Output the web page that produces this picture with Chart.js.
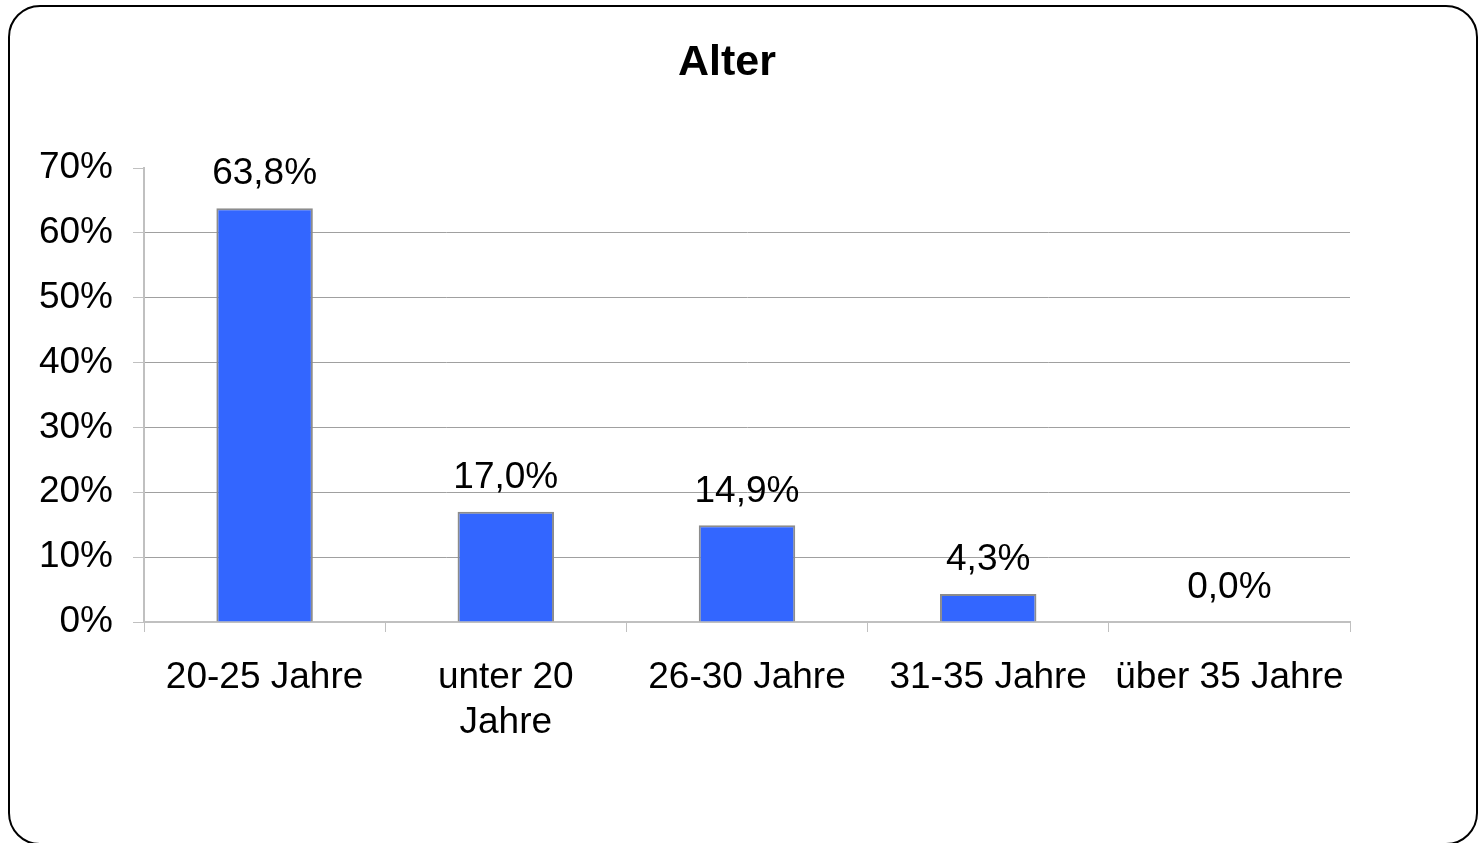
<!DOCTYPE html>
<html>
<head>
<meta charset="utf-8">
<script src="https://cdn.jsdelivr.net/npm/chart.js@4"></script>
<style>
  body { margin: 0; background: #fff; }
  #wrap { position: relative; width: 1482px; height: 843px; overflow: hidden; }
  #frame {
    position: absolute; left: 8px; top: 5px; width: 1470px; height: 840px;
    box-sizing: border-box; border: 2px solid #000; border-radius: 32px;
    pointer-events: none;
  }
</style>
</head>
<body>
<div id="wrap">
  <canvas id="age-chart" width="1482" height="843"></canvas>
  <div id="frame"></div>
</div>
<script>
// Data
const categories = ['20-25 Jahre', ['unter 20', 'Jahre'], '26-30 Jahre', '31-35 Jahre', 'über 35 Jahre'];
const shares = [63.8, 17.0, 14.9, 4.3, 0.0];
const yTicks = [0, 10, 20, 30, 40, 50, 60, 70];

Chart.defaults.font.family = "'Liberation Sans', Arial, sans-serif";
Chart.defaults.font.size = 37;
Chart.defaults.color = '#000';

// Value labels above the bars (German decimal comma)
const valueLabels = {
    id: 'valueLabels',
    afterDatasetsDraw(chart) {
        const ctx = chart.ctx;
        const meta = chart.getDatasetMeta(0);
        ctx.save();
        ctx.font = "37px 'Liberation Sans', Arial, sans-serif";
        ctx.fillStyle = '#000';
        ctx.textAlign = 'center';
        ctx.textBaseline = 'middle';
        meta.data.forEach((bar, i) => {
            ctx.fillText(shares[i].toFixed(1).replace('.', ',') + '%', bar.x, bar.y - 34);
        });
        ctx.restore();
    }
};

let ageChart = new Chart(document.getElementById('age-chart').getContext('2d'), {
    type: 'bar',
    data: {
        labels: categories,
        datasets: [{
            data: shares,
            backgroundColor: '#3366ff',
            borderColor: '#8c8c8c',
            borderWidth: 2,
            barPercentage: 0.4,
            categoryPercentage: 1
        }]
    },
    options: {
        responsive: false,
        animation: false,
        layout: {
            padding: { top: 0, right: 28, bottom: 0, left: 0 }
        },
        plugins: {
            legend: { display: false },
            tooltip: { enabled: false },
            title: {
                display: true,
                text: 'Alter',
                font: { size: 43, weight: 'bold' },
                color: '#000',
                padding: { top: 37, bottom: 79.4 }
            }
        },
        scales: {
            x: {
                grid: {
                    offset: true,
                    drawOnChartArea: false,
                    tickLength: 10,
                    tickColor: '#c0c0c0'
                },
                border: { color: '#c0c0c0', width: 2 },
                ticks: { padding: 24, maxRotation: 0, font: { size: 37, lineHeight: 1.2 } },
                afterFit(scale) { scale.height = 221; }
            },
            y: {
                min: 0,
                max: 70,
                afterBuildTicks(scale) { scale.ticks = yTicks.map(v => ({ value: v })); },
                ticks: {
                    padding: 20,
                    callback: v => v + '%'
                },
                grid: {
                    tickLength: 11,
                    tickColor: '#c0c0c0',
                    color: ctx => (ctx.tick && ctx.tick.value > 0 && ctx.tick.value < 70) ? '#a0a0a0' : 'rgba(0,0,0,0)'
                },
                border: { color: '#c0c0c0', width: 2 },
                afterFit(scale) { scale.width = 144; }
            },
            // empty spacer on the right so the plot ends where the original does
            spacer: {
                type: 'linear',
                position: 'right',
                grid: { display: false },
                border: { display: false },
                ticks: { display: false },
                afterFit(scale) { scale.width = 104; }
            }
        }
    },
    plugins: [valueLabels]
});
</script>
</body>
</html>
